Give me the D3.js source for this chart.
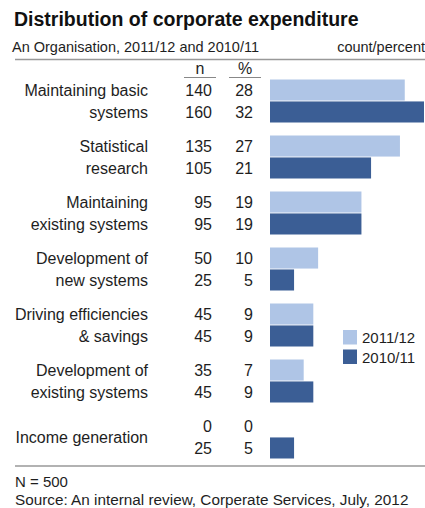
<!DOCTYPE html>
<html>
<head>
<meta charset="utf-8">
<script src="https://cdn.jsdelivr.net/npm/d3@7"></script>
<style>
  html, body { margin: 0; padding: 0; background: #fff; }
  svg { display: block; font-family: "Liberation Sans", Arial, sans-serif; }
</style>
</head>
<body>
<svg id="chart" width="425" height="508"></svg>
<script>
// Expenditure categories (label lines) and the two survey years
const categories = [
  ["Maintaining basic", "systems"],
  ["Statistical", "research"],
  ["Maintaining", "existing systems"],
  ["Development of", "new systems"],
  ["Driving efficiencies", "& savings"],
  ["Development of", "existing systems"],
  ["Income generation"]
];
const years = ["2011/12", "2010/11"];
const count2011 = [140, 135, 95, 50, 45, 35, 0];
const count2010 = [160, 105, 95, 25, 45, 45, 25];
const pct2011 = [28, 27, 19, 10, 9, 7, 0];
const pct2010 = [32, 21, 19, 5, 9, 9, 5];
const colors = ["#afc5e6", "#3b5e95"];

const svg = d3.select("#chart");
const W = 425;
const ink = "#1e1e1e";
const fs = 16;

// Title block
svg.append("text").attr("x", 14).attr("y", 26)
  .attr("font-size", 19.5).attr("font-weight", "bold").attr("fill", "#111")
  .text("Distribution of corporate expenditure");
svg.append("text").attr("x", 12).attr("y", 52)
  .attr("font-size", 14.5).attr("fill", ink)
  .text("An Organisation, 2011/12 and 2010/11");
svg.append("text").attr("x", 425).attr("y", 52).attr("text-anchor", "end")
  .attr("font-size", 14.5).attr("fill", ink)
  .text("count/percent");

svg.append("line").attr("x1", 15).attr("x2", W).attr("y1", 59.5).attr("y2", 59.5)
  .attr("stroke", "#999").attr("stroke-width", 1.3);

// Scales
const idx = categories.map((d, i) => i);
const y = d3.scaleBand().domain(idx).range([79.5, 458.5]).paddingInner(13 / 56).paddingOuter(0);
const ySub = d3.scaleBand().domain(years).range([0, y.bandwidth()]).paddingInner(0.04);
const x = d3.scaleLinear().domain([0, 160]).range([270, 424]);

const rows = idx.map(i => ({
  i,
  lines: categories[i],
  vals: [
    { year: years[0], n: count2011[i], p: pct2011[i] },
    { year: years[1], n: count2010[i], p: pct2010[i] }
  ]
}));

// Column headers
const nCol = 212, pCol = 253;
[{ t: "n", cx: 200, x1: 184, x2: 216 }, { t: "%", cx: 245, x1: 229, x2: 261 }].forEach(h => {
  svg.append("text").attr("x", h.cx).attr("y", 74).attr("text-anchor", "middle")
    .attr("font-size", fs).attr("fill", ink).text(h.t);
  svg.append("line").attr("x1", h.x1).attr("x2", h.x2).attr("y1", 77.5).attr("y2", 77.5)
    .attr("stroke", "#888").attr("stroke-width", 1);
});

const g = svg.selectAll("g.row").data(rows).join("g").attr("class", "row")
  .attr("transform", d => `translate(0,${y(d.i)})`);

const off = 5.7;

// Category labels, right aligned
g.each(function (d) {
  const sel = d3.select(this);
  const centers = d.lines.length === 2
    ? years.map(yr => ySub(yr) + ySub.bandwidth() / 2)
    : [y.bandwidth() / 2];
  d.lines.forEach((ln, k) => {
    sel.append("text").attr("x", 148).attr("y", centers[k] + off)
      .attr("text-anchor", "end").attr("font-size", fs).attr("fill", ink).text(ln);
  });
});

// Count and percent columns
g.selectAll("text.n").data(d => d.vals).join("text").attr("class", "n")
  .attr("x", nCol).attr("y", v => ySub(v.year) + ySub.bandwidth() / 2 + off)
  .attr("text-anchor", "end").attr("font-size", fs).attr("fill", ink).text(v => v.n);
g.selectAll("text.p").data(d => d.vals).join("text").attr("class", "p")
  .attr("x", pCol).attr("y", v => ySub(v.year) + ySub.bandwidth() / 2 + off)
  .attr("text-anchor", "end").attr("font-size", fs).attr("fill", ink).text(v => v.p);

// Bars
g.selectAll("rect").data(d => d.vals).join("rect")
  .attr("x", x(0)).attr("y", v => ySub(v.year))
  .attr("width", v => x(v.n) - x(0)).attr("height", ySub.bandwidth())
  .attr("fill", (v, k) => colors[k]);

// Legend
const leg = svg.append("g").attr("transform", "translate(343,330)");
years.forEach((yr, k) => {
  leg.append("rect").attr("x", 0).attr("y", k * 19.5).attr("width", 14).attr("height", 14.5)
    .attr("fill", colors[k]);
  leg.append("text").attr("x", 19).attr("y", k * 19.5 + 13).attr("font-size", 15)
    .attr("fill", ink).text(yr);
});

// Footer
svg.append("line").attr("x1", 15).attr("x2", W).attr("y1", 466).attr("y2", 466)
  .attr("stroke", "#999").attr("stroke-width", 1.3);
svg.append("text").attr("x", 15).attr("y", 487).attr("font-size", 15).attr("fill", ink)
  .text("N = 500");
svg.append("text").attr("x", 15).attr("y", 505).attr("font-size", 15.3).attr("fill", ink)
  .text("Source: An internal review, Corperate Services, July, 2012");
</script>
</body>
</html>
